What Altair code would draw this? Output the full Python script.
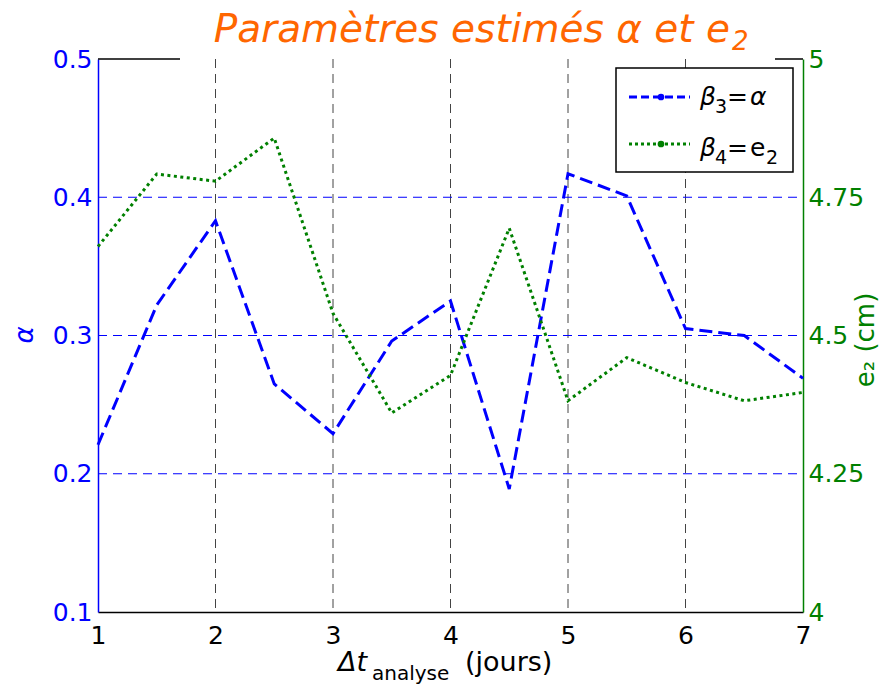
import altair as alt
import pandas as pd

# ---------------- data ----------------
t_vals = [1, 1.5, 2, 2.5, 3, 3.5, 4, 4.5, 5, 5.5, 6, 6.5, 7]
alpha_vals = [0.221, 0.322, 0.383, 0.265, 0.229, 0.296, 0.325, 0.189, 0.417, 0.401, 0.305, 0.300, 0.269]
e2_vals = [4.661, 4.792, 4.779, 4.857, 4.540, 4.360, 4.428, 4.694, 4.382, 4.460, 4.415, 4.382, 4.397]
x_ticks = [1, 2, 3, 4, 5, 6, 7]
alpha_ticks = [0.1, 0.2, 0.3, 0.4, 0.5]
alpha_grid = [0.2, 0.3, 0.4]
x_grid = [2, 3, 4, 5, 6]
e2_ticks = [4, 4.25, 4.5, 4.75, 5]

W, H = 705, 553
FONT = "DejaVu Sans"
BLUE = "#0000FF"
GREEN = "#008000"
ORANGE = "#FF6600"

df = pd.DataFrame({"t": t_vals, "alpha": alpha_vals, "e2": e2_vals})
df_hgrid = pd.DataFrame({"alpha": alpha_grid})
df_vgrid = pd.DataFrame({"t": x_grid})

xscale = alt.Scale(domain=[1, 7], nice=False, zero=False)
xaxis = alt.Axis(values=x_ticks, format="d", labelFont=FONT, labelFontSize=25,
                 labelColor="black", domainColor="black", domainWidth=1.5,
                 ticks=False, grid=False, title=None, labelPadding=11,
                 labelFlush=False)
X = alt.X("t:Q", scale=xscale, axis=xaxis)

ascale = alt.Scale(domain=[0.1, 0.5], nice=False, zero=False)
aaxis = alt.Axis(values=alpha_ticks, format=".1f", labelFont=FONT, labelFontSize=25,
                 labelColor=BLUE, domainColor=BLUE, domainWidth=1.5, ticks=False,
                 grid=False, title=None, orient="left", labelPadding=6)
YA = alt.Y("alpha:Q", scale=ascale, axis=aaxis)

escale = alt.Scale(domain=[4, 5], nice=False, zero=False)
eaxis = alt.Axis(values=e2_ticks, format=".3~g", labelFont=FONT, labelFontSize=25,
                 labelColor=GREEN, domainColor=GREEN, domainWidth=1.5, ticks=False,
                 grid=False, title=None, orient="right", labelPadding=5)
YE = alt.Y("e2:Q", scale=escale, axis=eaxis)

vgrid = alt.Chart(df_vgrid).mark_rule(color="#444444", strokeWidth=1, strokeDash=[9, 6]).encode(
    x=X, y=alt.value(0), y2=alt.value(H))
hgrid = alt.Chart(df_hgrid).mark_rule(color=BLUE, strokeWidth=1.1, strokeDash=[9, 6]).encode(
    y=YA, x=alt.value(0), x2=alt.value(W))
blue_line = alt.Chart(df).mark_line(color=BLUE, strokeWidth=3, strokeDash=[13, 6]).encode(x=X, y=YA)

left = alt.layer(vgrid, hgrid, blue_line)

green_line = alt.Chart(df).mark_line(color=GREEN, strokeWidth=3, strokeDash=[3, 3.5]).encode(x=X, y=YE)

one = alt.Data(values=[{}])


def txt(text, x, y, size=25, color="black", italic=False, align="left",
        baseline="alphabetic", angle=0):
    return alt.Chart(one).mark_text(
        text=text, fontSize=size, color=color, font=FONT,
        fontStyle="italic" if italic else "normal",
        align=align, baseline=baseline, angle=angle
    ).encode(x=alt.value(x), y=alt.value(y))


# top border (interrupted by the title)
top1 = alt.Chart(one).mark_rule(color="black", strokeWidth=1.5).encode(
    x=alt.value(0), x2=alt.value(82), y=alt.value(0))
top2 = alt.Chart(one).mark_rule(color="black", strokeWidth=1.5).encode(
    x=alt.value(677), x2=alt.value(W), y=alt.value(0))

# legend
leg_box = alt.Chart(one).mark_rect(fill="white", stroke="black", strokeWidth=1.5).encode(
    x=alt.value(518), x2=alt.value(695), y=alt.value(9), y2=alt.value(113))
leg_l1 = alt.Chart(one).mark_rule(color=BLUE, strokeWidth=3, strokeDash=[8, 4]).encode(
    x=alt.value(531), x2=alt.value(592), y=alt.value(38))
leg_p1 = alt.Chart(one).mark_point(filled=True, color=BLUE, size=45, opacity=1).encode(
    x=alt.value(563), y=alt.value(38))
leg_l2 = alt.Chart(one).mark_rule(color=GREEN, strokeWidth=3, strokeDash=[3, 3]).encode(
    x=alt.value(531), x2=alt.value(592), y=alt.value(85))
leg_p2 = alt.Chart(one).mark_point(filled=True, color=GREEN, size=45, opacity=1).encode(
    x=alt.value(563), y=alt.value(85))

legend_texts = [
    txt("β", 602, 46, italic=True),
    txt("3", 617, 54, size=19),
    txt("=", 629, 46),
    txt("α", 652, 46, italic=True),
    txt("β", 602, 97, italic=True),
    txt("4", 617, 105, size=19),
    txt("=", 629, 97),
    txt("e", 652, 97),
    txt("2", 668, 105, size=19),
]

# title
title_main = txt("Paramètres estimés α et e", 632, -17, size=39, color=ORANGE,
                 italic=True, align="right")
title_sub = txt("2", 634, -9, size=26, color=ORANGE, italic=True)

# axis titles
ytitle_left = txt("α", -73, 276, size=26, color=BLUE, italic=True, align="center",
                  baseline="middle", angle=270)
ytitle_right = txt("e₂ (cm)", 768, 281, size=26, color=GREEN, align="center",
                   baseline="middle", angle=270)
xt1 = txt("Δt", 240, 612, size=27, italic=True)
xt2 = txt("analyse", 274, 621, size=20)
xt3 = txt("(jours)", 367, 612, size=27)

chart = alt.layer(
    left, green_line, top1, top2,
    leg_box, leg_l1, leg_p1, leg_l2, leg_p2, *legend_texts,
    title_main, title_sub, ytitle_left, ytitle_right, xt1, xt2, xt3
).resolve_scale(y="independent").properties(
    width=W, height=H,
    autosize=alt.AutoSizeParams(type="none"),
    padding={"left": 98, "top": 59, "right": 87, "bottom": 74},
    background="white",
).configure_view(stroke=None)

chart.save("out.html", embed_options={"renderer": "svg", "actions": False})
